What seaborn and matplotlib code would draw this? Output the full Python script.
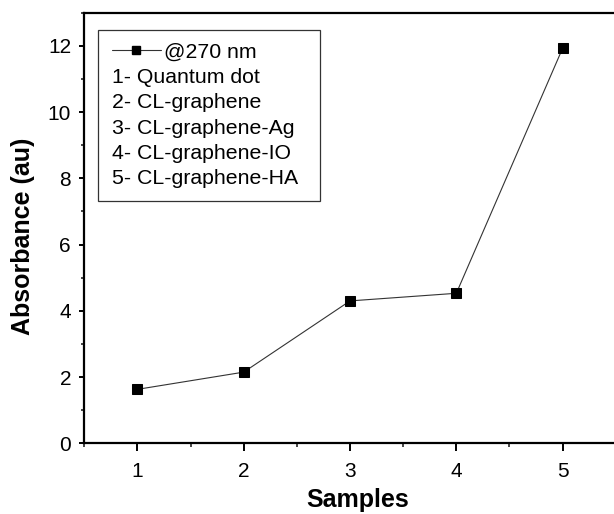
import matplotlib
matplotlib.use("Agg")
import matplotlib.pyplot as plt
import seaborn as sns
import pandas as pd
from matplotlib.lines import Line2D
from matplotlib.patches import Rectangle
from matplotlib.ticker import MultipleLocator

samples = [1, 2, 3, 4, 5]
absorbance = [1.63, 2.15, 4.30, 4.53, 11.93]
series_label = "@270 nm"
sample_names = ["1- Quantum dot", "2- CL-graphene", "3- CL-graphene-Ag",
                "4- CL-graphene-IO", "5- CL-graphene-HA"]
x_ticks = [1, 2, 3, 4, 5]
y_ticks = [0, 2, 4, 6, 8, 10, 12]

sns.set_theme(style="ticks")
plt.rcParams["font.family"] = ["Liberation Sans", "DejaVu Sans"]

df = pd.DataFrame({"Samples": samples, "Absorbance": absorbance})

fig = plt.figure(figsize=(6.14, 5.14), dpi=100)
ax = fig.add_axes([0.1373, 0.1375, 0.8656, 0.8377])

sns.lineplot(data=df, x="Samples", y="Absorbance", ax=ax, color="#333333",
             linewidth=0.8, marker="s", markersize=6.5,
             markerfacecolor="black", markeredgecolor="black")

ax.set_xlim(0.5, 5.5)
ax.set_ylim(0, 13)
ax.set_xticks(x_ticks)
ax.set_yticks(y_ticks)
ax.xaxis.set_minor_locator(MultipleLocator(0.5))
ax.yaxis.set_minor_locator(MultipleLocator(1))

for s in ["left", "bottom", "top", "right"]:
    ax.spines[s].set_linewidth(1.6)
    ax.spines[s].set_color("black")
ax.spines["right"].set_visible(False)

ax.tick_params(axis="x", which="major", direction="out", length=5.5, width=1.4,
               labelsize=15, pad=8, colors="black")
ax.tick_params(axis="x", which="minor", direction="out", length=3, width=1.2)
ax.tick_params(axis="y", which="major", direction="out", length=3.5, width=1.4,
               labelsize=15, pad=6, colors="black")
ax.tick_params(axis="y", which="minor", direction="out", length=2.5, width=1.2)

ax.set_xlabel("Samples", fontsize=18, fontweight="bold", color="black")
ax.set_ylabel("Absorbance (au)", fontsize=18, fontweight="bold", color="black")
ax.xaxis.set_label_coords(0.515, -0.104)
ax.yaxis.set_label_coords(-0.0928, 0.4815)

# legend frame
ax.add_patch(Rectangle((0.0267, 0.5634), 0.4164, 0.3964, transform=ax.transAxes,
                       fill=False, edgecolor="#333333", linewidth=0.9, zorder=5))

handle = Line2D([], [], color="#333333", linewidth=0.8, marker="s",
                markersize=5.5, markerfacecolor="black", markeredgecolor="black")
ax.legend(handles=[handle], labels=[series_label], loc="center left",
          bbox_to_anchor=(0.0521, 0.9087), frameon=False, fontsize=15.3,
          handlelength=2.3, handletextpad=0.14, borderpad=0, borderaxespad=0,
          labelcolor="black")

row_y = [0.8497, 0.7908, 0.7320, 0.6730, 0.6143]
for name, yy in zip(sample_names, row_y):
    ax.text(0.0521, yy, name, transform=ax.transAxes, fontsize=15.3,
            va="center", ha="left", color="black")

fig.savefig("out.png", dpi=100)
